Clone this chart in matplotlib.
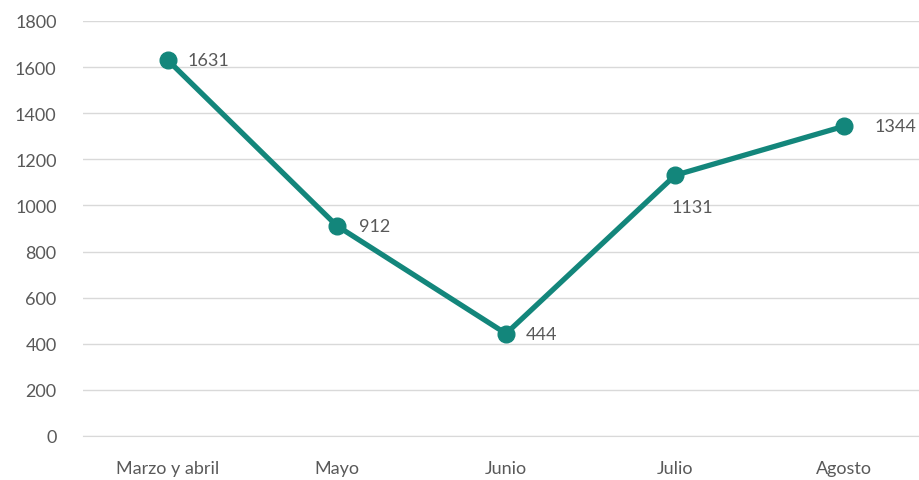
import matplotlib
matplotlib.use("Agg")
import matplotlib.pyplot as plt

categories = ["Marzo y abril", "Mayo", "Junio", "Julio", "Agosto"]
values = [1631, 912, 444, 1131, 1344]
yticks = [0, 200, 400, 600, 800, 1000, 1200, 1400, 1600, 1800]

plt.rcParams['font.family'] = ['Lato', 'DejaVu Sans']
color = "#13867B"
txt = "#595959"

fig = plt.figure(figsize=(9.19, 4.81), dpi=100)
ax = fig.add_axes([83/919, 1-437/481, 1-83/919, (437-22)/481])
x = list(range(len(categories)))
ax.plot(x, values, color=color, lw=3.8, marker='o', ms=12, zorder=3, clip_on=False)
ax.set_xlim(-0.5, 4.5 - 10/169)
ax.set_ylim(0, 1800)
ax.set_yticks(yticks)
ax.set_xticks(x)
ax.set_xticklabels(categories)
ax.grid(axis='y', color='#D9D9D9', lw=1)
ax.set_axisbelow(True)
for s in ['top', 'right', 'left']:
    ax.spines[s].set_visible(False)
ax.spines['bottom'].set_color('#D9D9D9')
ax.tick_params(length=0, labelsize=13, colors=txt)
ax.tick_params(axis='y', pad=19)
ax.tick_params(axis='x', pad=17)

offsets = [(20, 0), (22, 0), (20, 0), (-4, -32), (30, 0)]
for xi, v, (dx, dy) in zip(x, values, offsets):
    ax.annotate(str(v), (xi, v), xytext=(dx, dy), textcoords='offset pixels',
                ha='left', va='center', fontsize=13, color=txt)

fig.savefig("out.png", dpi=100)
